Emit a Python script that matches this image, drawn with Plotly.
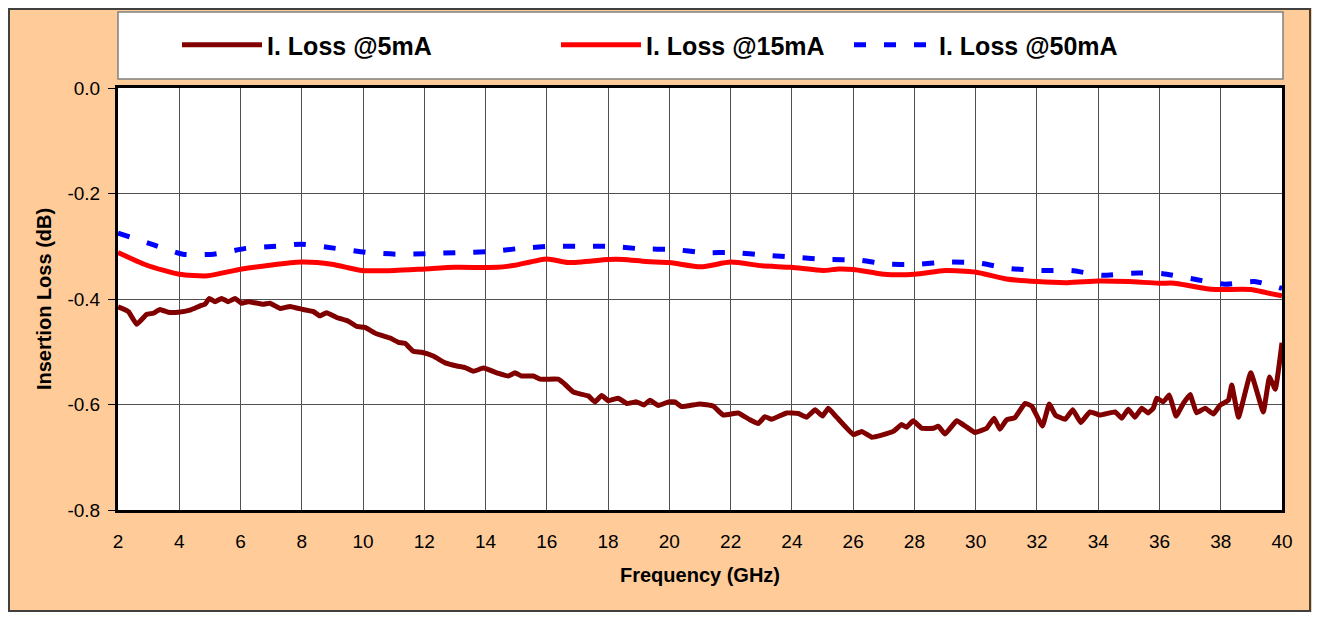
import plotly.graph_objects as go

# ---------------- data ----------------
freq_5mA = [2.00, 2.34, 2.61, 2.94, 3.15, 3.37, 3.64, 3.97, 4.35, 4.68, 4.84, 4.98, 5.17, 5.38, 5.60,
            5.82, 6.04, 6.25, 6.74, 6.96, 7.29, 7.62, 8.05, 8.38, 8.59, 8.81, 9.14, 9.52, 9.79, 10.06,
            10.44, 10.88, 11.15, 11.37, 11.64, 11.91, 12.29, 12.68, 13.06, 13.33, 13.60, 13.93, 14.42,
            14.74, 14.96, 15.18, 15.56, 15.78, 16.37, 16.54, 16.86, 17.08, 17.36, 17.57, 17.79, 18.01,
            18.33, 18.61, 18.93, 19.17, 19.37, 19.64, 19.97, 20.18, 20.40, 21.00, 21.43, 21.76, 22.25,
            22.63, 22.90, 23.12, 23.34, 23.83, 24.21, 24.48, 24.76, 25.00, 25.19, 25.46, 26.01, 26.28,
            26.61, 26.93, 27.31, 27.58, 27.74, 27.96, 28.24, 28.62, 28.78, 29.00, 29.38, 29.71, 29.98,
            30.36, 30.60, 30.79, 31.01, 31.28, 31.61, 31.83, 32.18, 32.40, 32.60, 32.92, 33.17, 33.43,
            33.73, 34.06, 34.55, 34.77, 34.98, 35.20, 35.42, 35.63, 35.80, 35.91, 36.12, 36.32, 36.54,
            36.78, 37.00, 37.21, 37.49, 37.76, 37.98, 38.25, 38.36, 38.58, 38.98, 39.39, 39.59, 39.78,
            40.00]
loss_5mA = [-0.415, -0.424, -0.448, -0.429, -0.427, -0.420, -0.425, -0.425, -0.421, -0.413, -0.410,
            -0.399, -0.405, -0.399, -0.405, -0.399, -0.408, -0.405, -0.410, -0.408, -0.418, -0.414,
            -0.420, -0.424, -0.432, -0.426, -0.435, -0.442, -0.452, -0.454, -0.466, -0.474, -0.482,
            -0.484, -0.499, -0.501, -0.508, -0.521, -0.527, -0.530, -0.537, -0.531, -0.541, -0.546,
            -0.540, -0.546, -0.546, -0.552, -0.552, -0.559, -0.576, -0.580, -0.584, -0.595, -0.583,
            -0.593, -0.588, -0.598, -0.595, -0.601, -0.592, -0.602, -0.595, -0.595, -0.604, -0.599,
            -0.603, -0.620, -0.616, -0.629, -0.636, -0.623, -0.628, -0.616, -0.617, -0.624, -0.610,
            -0.622, -0.607, -0.624, -0.657, -0.651, -0.662, -0.658, -0.651, -0.638, -0.643, -0.631,
            -0.645, -0.645, -0.641, -0.656, -0.631, -0.643, -0.653, -0.645, -0.626, -0.647, -0.629,
            -0.625, -0.598, -0.603, -0.641, -0.599, -0.620, -0.628, -0.610, -0.634, -0.614, -0.620,
            -0.614, -0.626, -0.609, -0.624, -0.607, -0.616, -0.607, -0.588, -0.595, -0.582, -0.622,
            -0.598, -0.581, -0.616, -0.607, -0.618, -0.601, -0.592, -0.563, -0.624, -0.540, -0.614,
            -0.548, -0.571, -0.483]

freq_15mA = [2.0, 2.94, 4.0, 4.93, 6.05, 7.98, 8.98, 9.97, 11.03, 12.03, 13.02, 14.39, 14.95, 16.0,
             16.69, 18.0, 18.5, 19.24, 20.0, 21.03, 22.0, 23.02, 23.98, 25.02, 25.52, 26.01, 27.01,
             28.01, 29.01, 29.98, 31.0, 32.0, 33.0, 34.0, 34.99, 35.97, 36.49, 36.99, 37.61, 37.98,
             38.98, 39.48, 40.0]
loss_15mA = [-0.312, -0.336, -0.353, -0.356, -0.343, -0.330, -0.334, -0.346, -0.346, -0.343, -0.340,
             -0.340, -0.336, -0.324, -0.331, -0.325, -0.325, -0.329, -0.331, -0.339, -0.330, -0.337,
             -0.340, -0.346, -0.343, -0.344, -0.353, -0.353, -0.346, -0.349, -0.362, -0.367, -0.369,
             -0.366, -0.367, -0.370, -0.370, -0.375, -0.381, -0.382, -0.382, -0.388, -0.394]

freq_50mA = [2.0, 3.19, 4.12, 5.12, 6.18, 7.17, 7.98, 9.10, 10.16, 11.09, 12.09, 13.12, 14.14, 15.14,
             16.13, 17.07, 18.0, 19.12, 20.11, 21.15, 22.09, 23.15, 24.12, 25.14, 26.14, 27.14, 28.11,
             29.11, 30.10, 31.10, 32.12, 33.12, 34.12, 35.09, 36.11, 37.11, 38.13, 39.10, 40.0]
loss_50mA = [-0.275, -0.298, -0.315, -0.315, -0.304, -0.300, -0.296, -0.304, -0.312, -0.315, -0.314,
             -0.312, -0.310, -0.304, -0.300, -0.300, -0.300, -0.305, -0.306, -0.312, -0.312, -0.317,
             -0.321, -0.325, -0.326, -0.334, -0.334, -0.330, -0.332, -0.342, -0.346, -0.346, -0.355,
             -0.351, -0.352, -0.362, -0.372, -0.367, -0.380]

series_names = ["I. Loss @5mA", "I. Loss @15mA", "I. Loss @50mA"]
x_ticks = [2, 4, 6, 8, 10, 12, 14, 16, 18, 20, 22, 24, 26, 28, 30, 32, 34, 36, 38, 40]
y_tick_vals = [0.0, -0.2, -0.4, -0.6, -0.8]
y_tick_text = ["0.0", "-0.2", "-0.4", "-0.6", "-0.8"]

# ---------------- figure ----------------
# the page body has an 8px margin, so the figure is laid out 8px smaller/shifted
FONT = "Liberation Sans, Arial, sans-serif"
OFF = 8
W, H = 1309, 604
ML, MT = 118 - OFF, 88 - OFF
MR = W - (1282 - OFF)
MB = H - (510 - OFF)
PW, PH = W - ML - MR, H - MT - MB


def px_x(p):
    # p: page pixel coordinate
    return (p - OFF - ML) / PW


def px_y(p):
    return (H - MB - (p - OFF)) / PH


fig = go.Figure()
fig.add_trace(go.Scatter(x=freq_5mA, y=loss_5mA, name=series_names[0], mode="lines",
                         line=dict(color="#800000", width=5, shape="spline", smoothing=0.3),
                         legend="legend"))
fig.add_trace(go.Scatter(x=freq_15mA, y=loss_15mA, name=series_names[1], mode="lines",
                         line=dict(color="#FF0000", width=5, shape="spline", smoothing=0.6),
                         legend="legend2"))
fig.add_trace(go.Scatter(x=freq_50mA, y=loss_50mA, name=series_names[2], mode="lines",
                         line=dict(color="#0000FF", width=5, dash="12px,18px", shape="spline",
                                   smoothing=0.6),
                         legend="legend3"))

leg_common = dict(orientation="h", yanchor="middle", xanchor="left", bgcolor="rgba(0,0,0,0)",
                  borderwidth=0, itemwidth=80,
                  font=dict(family=FONT, size=25, color="black", weight="bold"))
leg_y = px_y(45)

fig.update_layout(
    width=W, height=H,
    margin=dict(l=ML, r=MR, t=MT, b=MB),
    paper_bgcolor="#FFCC99",
    plot_bgcolor="white",
    showlegend=True,
    legend=dict(x=px_x(183 - 6), y=leg_y, **leg_common),
    legend2=dict(x=px_x(562 - 6), y=leg_y, **leg_common),
    legend3=dict(x=px_x(855 - 6), y=leg_y, **leg_common),
    font=dict(family=FONT, color="black"),
    shapes=[
        # legend box
        dict(type="rect", xref="paper", yref="paper", x0=px_x(118), x1=px_x(1283),
             y0=px_y(79), y1=px_y(12), fillcolor="white", line=dict(color="#808080", width=1.5),
             layer="below"),
        # outer chart border
        dict(type="rect", xref="paper", yref="paper", x0=px_x(OFF + 1), x1=px_x(1310),
             y0=px_y(OFF + H - 1), y1=px_y(OFF + 1), fillcolor="rgba(0,0,0,0)",
             line=dict(color="#404040", width=2), layer="below"),
    ],
)

fig.update_xaxes(
    range=[2, 40], tickvals=x_ticks, ticks="", ticklabelstandoff=12,
    tickfont=dict(family=FONT, size=19, color="black"),
    showgrid=True, gridcolor="#505050", gridwidth=1,
    showline=True, linecolor="black", linewidth=3, mirror=True, zeroline=False,
    title=dict(text="Frequency (GHz)", font=dict(family=FONT, size=20, color="black", weight="bold"),
               standoff=18),
)
fig.update_yaxes(
    range=[-0.8, 0.0], tickvals=y_tick_vals, ticktext=y_tick_text, ticks="outside", ticklen=7,
    tickcolor="black", tickwidth=1, ticklabelstandoff=4,
    tickfont=dict(family=FONT, size=19, color="black"),
    showgrid=True, gridcolor="#505050", gridwidth=1,
    showline=True, linecolor="black", linewidth=3, mirror=True, zeroline=False,
    title=dict(text="Insertion Loss (dB)", font=dict(family=FONT, size=20, color="black", weight="bold"),
               standoff=11),
)

fig.write_html("out.html")
